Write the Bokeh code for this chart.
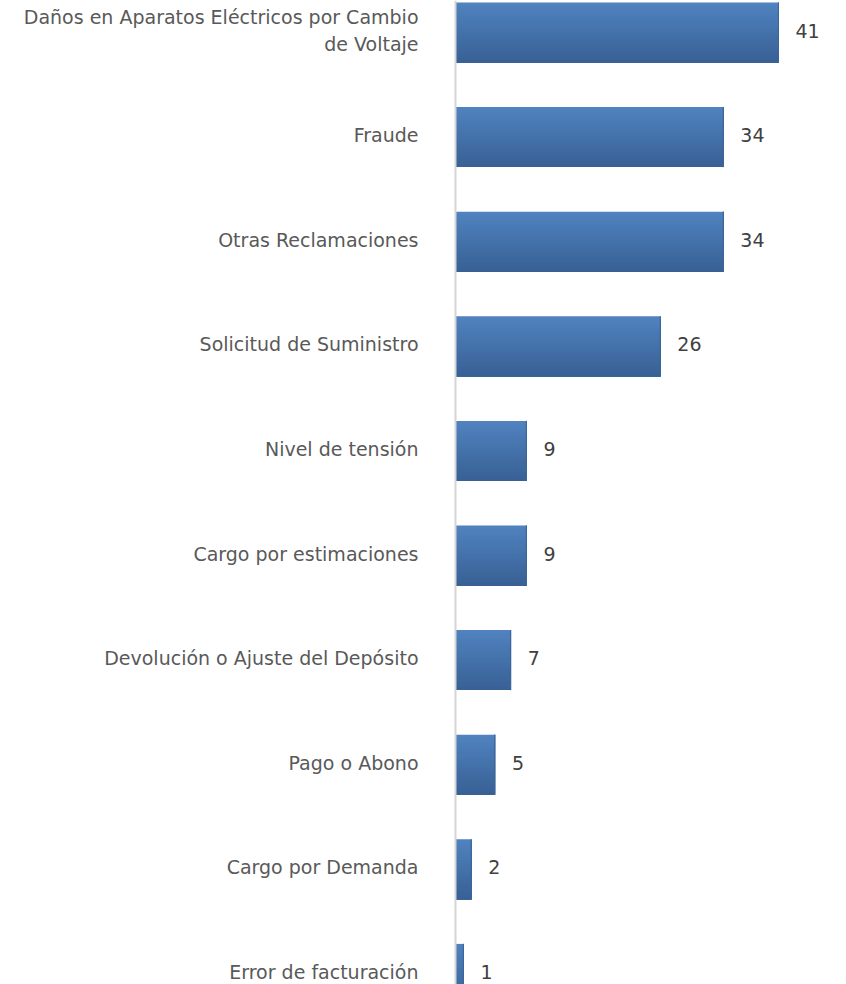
from bokeh.plotting import figure
from bokeh.models import ColumnDataSource, Range1d, Span
from bokeh.core.properties import value
from bokeh.embed import file_html
from bokeh.resources import INLINE

categories = [
    "Daños en Aparatos Eléctricos por Cambio\nde Voltaje",
    "Fraude",
    "Otras Reclamaciones",
    "Solicitud de Suministro",
    "Nivel de tensión",
    "Cargo por estimaciones",
    "Devolución o Ajuste del Depósito",
    "Pago o Abono",
    "Cargo por Demanda",
    "Error de facturación",
]
counts = [41, 34, 34, 26, 9, 9, 7, 5, 2, 1]

n = len(categories)
pos = list(range(n))

W, H = 846, 984
px_per_unit = 7.878
x_start = -455 / px_per_unit
x_end = x_start + W / px_per_unit
row_px = 104.6
y_top = -32 / row_px
y_bottom = y_top + H / row_px
bar_h = 60 / row_px

p = figure(width=W, height=H, output_backend="svg", toolbar_location=None,
           x_range=Range1d(x_start, x_end), y_range=Range1d(y_bottom, y_top),
           min_border=0, outline_line_color=None)
p.axis.visible = False
p.grid.visible = False
p.background_fill_color = "white"
p.border_fill_color = "white"

# gradient bars: each strip spans from its own top down to the bar bottom,
# drawn top to bottom so later strips overlay earlier ones (no seams)
top_rgb = (80, 131, 192)
bot_rgb = (56, 96, 148)
N = 20
for j in range(N):
    t = (j + 0.5) / N
    col = "#%02x%02x%02x" % tuple(int(round(a + (b - a) * t)) for a, b in zip(top_rgb, bot_rgb))
    top_off = -bar_h / 2 + j * bar_h / N
    bot_off = bar_h / 2
    src = ColumnDataSource(dict(top=[v + top_off for v in pos],
                                bottom=[v + bot_off for v in pos], right=counts))
    p.quad(left=0, right="right", top="top", bottom="bottom", source=src,
           fill_color=col, line_color=None)

# solid right edge in the bottom colour hides the anti-aliasing build-up
edge_src = ColumnDataSource(dict(y=pos, right=counts))
p.hbar(y="y", left="right", right="right", height=bar_h, source=edge_src,
       fill_color=None, line_color="#3d6699", line_width=1)

# axis line
p.add_layout(Span(location=0, dimension="height", line_color="#d4d4d4", line_width=2))

lab_src = ColumnDataSource(dict(y=pos, cat=categories, v=counts,
                                vt=[str(c) for c in counts]))
p.text(x=-37 / px_per_unit, y="y", text="cat", source=lab_src, y_offset=-2,
       text_align="right", text_baseline="middle", text_font=value("DejaVu Sans"),
       text_font_size="19px", text_color="#595959", text_line_height=1.2)
p.text(x="v", y="y", text="vt", source=lab_src, x_offset=17, y_offset=-2,
       text_align="left", text_baseline="middle", text_font=value("DejaVu Sans"),
       text_font_size="19px", text_color="#404040")

open("out.html", "w").write(file_html(p, INLINE))
